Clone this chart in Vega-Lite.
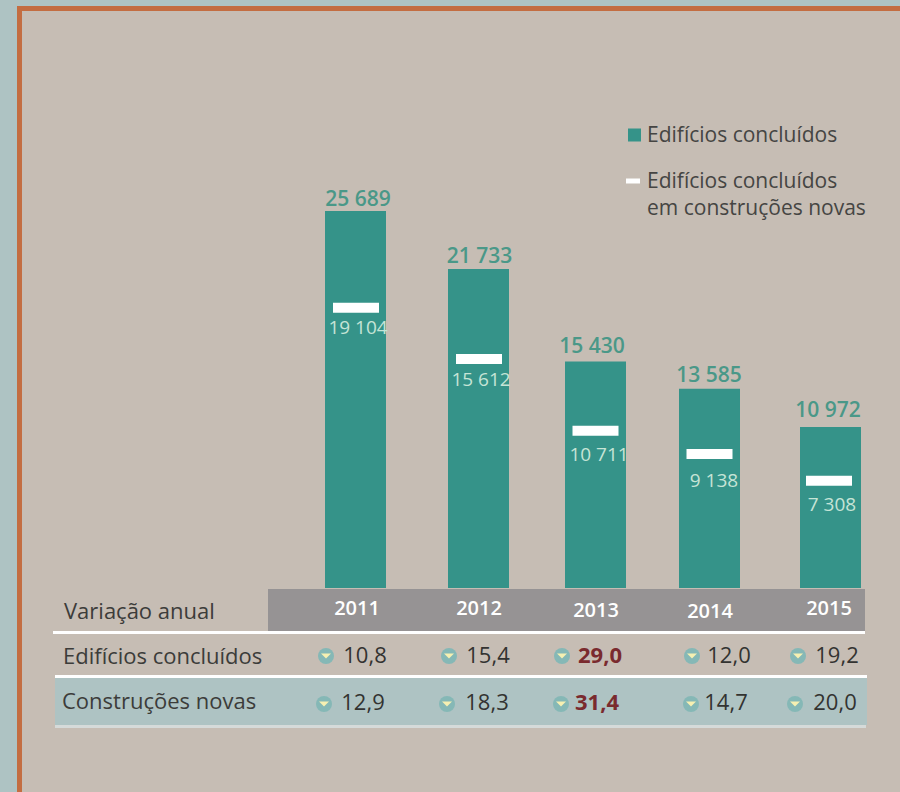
{"$schema":"https://vega.github.io/schema/vega-lite/v6.json","width":900,"height":792,"padding":0,"autosize":{"type":"fit","contains":"padding"},"background":"#aec3c3","view":{"stroke":null},
"config":{"text":{"font":"Open Sans"},"axis":{"title":null}},
"datasets":{
"anos":[{"ano":2011,"concluidos":25689,"novas":19104,"total_txt":"25 689","novas_txt":"19 104"},{"ano":2012,"concluidos":21733,"novas":15612,"total_txt":"21 733","novas_txt":"15 612"},{"ano":2013,"concluidos":15430,"novas":10711,"total_txt":"15 430","novas_txt":"10 711"},{"ano":2014,"concluidos":13585,"novas":9138,"total_txt":"13 585","novas_txt":"9 138"},{"ano":2015,"concluidos":10972,"novas":7308,"total_txt":"10 972","novas_txt":"7 308"}],
"variacao":[{"ano":2011,"indicador":"Edifícios concluídos","valor":"10,8"},{"ano":2012,"indicador":"Edifícios concluídos","valor":"15,4"},{"ano":2013,"indicador":"Edifícios concluídos","valor":"29,0"},{"ano":2014,"indicador":"Edifícios concluídos","valor":"12,0"},{"ano":2015,"indicador":"Edifícios concluídos","valor":"19,2"},{"ano":2011,"indicador":"Construções novas","valor":"12,9"},{"ano":2012,"indicador":"Construções novas","valor":"18,3"},{"ano":2013,"indicador":"Construções novas","valor":"31,4"},{"ano":2014,"indicador":"Construções novas","valor":"14,7"},{"ano":2015,"indicador":"Construções novas","valor":"20,0"}],
"linhas":[{"linha":"Variação anual"},{"linha":"Edifícios concluídos"},{"linha":"Construções novas"}],
"legenda":[{"txt":"Edifícios concluídos"},{"txt":"Edifícios concluídos|em construções novas"}],
"um":[{"k":1}]
},
"data":{"name":"anos"},
"layer":[
{"data":{"name":"um"},"mark":{"type":"rect","color":"#c36d41"},"encoding":{"x":{"value":17},"x2":{"value":900},"y":{"value":6},"y2":{"value":792}}},
{"data":{"name":"um"},"mark":{"type":"rect","color":"#c6bdb4"},"encoding":{"x":{"value":22},"x2":{"value":900},"y":{"value":11},"y2":{"value":792}}},
{"data":{"name":"um"},"mark":{"type":"rect","color":"#969394"},"encoding":{"x":{"value":268},"x2":{"value":865},"y":{"value":589},"y2":{"value":631}}},
{"data":{"name":"um"},"mark":{"type":"rect","color":"#aec3c3"},"encoding":{"x":{"value":55},"x2":{"value":867},"y":{"value":677},"y2":{"value":725}}},
{"data":{"name":"um"},"mark":{"type":"rect","color":"#ffffff"},"encoding":{"x":{"value":53},"x2":{"value":865},"y":{"value":631},"y2":{"value":634}}},
{"data":{"name":"um"},"mark":{"type":"rect","color":"#ffffff"},"encoding":{"x":{"value":55},"x2":{"value":867},"y":{"value":675},"y2":{"value":678}}},
{"data":{"name":"um"},"mark":{"type":"rect","color":"#d5dad9"},"encoding":{"x":{"value":55},"x2":{"value":866},"y":{"value":725},"y2":{"value":728}}},
{"mark":{"type":"bar","orient":"vertical","width":61,"color":"#359389"},"encoding":{"x":{"field":"ano","type":"quantitative","axis":null,"scale":{"domain":[2011,2012,2013,2014,2015],"range":[355.5,478.5,595.5,709.5,830.5],"nice":false,"zero":false,"padding":0}},"y":{"field":"concluidos","type":"quantitative","axis":null,"stack":null,"scale":{"domain":[0,25689],"range":[588,211],"nice":false}}}},
{"mark":{"type":"tick","orient":"horizontal","size":46,"thickness":10,"color":"#ffffff","opacity":1},"encoding":{"x":{"field":"ano","type":"quantitative","axis":null,"scale":{"domain":[2011,2012,2013,2014,2015],"range":[356,479,595.5,709.5,829],"nice":false,"zero":false}},"y":{"field":"novas","type":"quantitative","axis":null,"scale":{"domain":[0,25689],"range":[588,211],"nice":false}}}},
{"mark":{"type":"text","fontSize":21,"fontWeight":600,"color":"#4a9888","baseline":"middle"},"encoding":{"text":{"field":"total_txt"},"x":{"field":"ano","type":"quantitative","axis":null,"scale":{"domain":[2011,2012,2013,2014,2015],"range":[358,479.5,592,709,828],"nice":false,"zero":false}},"y":{"field":"concluidos","type":"quantitative","axis":null,"scale":{"domain":[10972,13585,15430,21733,25689],"range":[411,376,347,257,200],"nice":false,"zero":false}}}},
{"mark":{"type":"text","fontSize":19,"color":"#c6e4d6","baseline":"middle"},"encoding":{"text":{"field":"novas_txt"},"x":{"field":"ano","type":"quantitative","axis":null,"scale":{"domain":[2011,2012,2013,2014,2015],"range":[358,481,599,714,832],"nice":false,"zero":false}},"y":{"field":"novas","type":"quantitative","axis":null,"scale":{"domain":[7308,9138,10711,15612,19104],"range":[505,481,455,380,328],"nice":false,"zero":false}}}},
{"mark":{"type":"text","fontSize":20,"fontWeight":600,"color":"#ffffff","baseline":"middle"},"encoding":{"text":{"field":"ano","type":"nominal"},"x":{"field":"ano","type":"quantitative","axis":null,"scale":{"domain":[2011,2012,2013,2014,2015],"range":[357,479,596,710,829],"nice":false,"zero":false}},"y":{"field":"ano","type":"quantitative","axis":null,"scale":{"domain":[2011,2012,2013,2014,2015],"range":[609,609,611,612,609],"nice":false,"zero":false}}}},
{"data":{"name":"linhas"},"mark":{"type":"text","fontSize":22,"color":"#3c3c3a","align":"left","baseline":"middle"},"encoding":{"text":{"field":"linha"},"x":{"field":"linha","type":"nominal","axis":null,"scale":{"type":"point","domain":["Construções novas","Edifícios concluídos","Variação anual"],"range":[62,64],"padding":0}},"y":{"field":"linha","type":"nominal","axis":null,"scale":{"type":"point","domain":["Variação anual","Edifícios concluídos","Construções novas"],"range":[612,702],"padding":0}}}},
{"data":{"name":"variacao"},"transform":[{"filter":"datum.indicador === 'Edifícios concluídos'"}],"mark":{"type":"point","filled":true,"shape":"circle","size":256,"color":"#85b8b6","opacity":1},"encoding":{"x":{"field":"ano","type":"quantitative","axis":null,"scale":{"domain":[2011,2012,2013,2014,2015],"range":[326,449,562,692,798],"nice":false,"zero":false}},"y":{"field":"indicador","type":"nominal","axis":null,"scale":{"type":"point","domain":["Edifícios concluídos","Construções novas"],"range":[656,704],"padding":0}}}},
{"data":{"name":"variacao"},"transform":[{"filter":"datum.indicador === 'Edifícios concluídos'"}],"mark":{"type":"point","filled":true,"shape":"M-1,-0.5L1,-0.5L0,0.5Z","size":100,"color":"#f6f0b2","opacity":1},"encoding":{"x":{"field":"ano","type":"quantitative","axis":null,"scale":{"domain":[2011,2012,2013,2014,2015],"range":[326,449,562,692,798],"nice":false,"zero":false}},"y":{"field":"indicador","type":"nominal","axis":null,"scale":{"type":"point","domain":["Edifícios concluídos","Construções novas"],"range":[656,704],"padding":0}}}},
{"data":{"name":"variacao"},"transform":[{"filter":"datum.indicador === 'Construções novas'"}],"mark":{"type":"point","filled":true,"shape":"circle","size":256,"color":"#85b8b6","opacity":1},"encoding":{"x":{"field":"ano","type":"quantitative","axis":null,"scale":{"domain":[2011,2012,2013,2014,2015],"range":[324,447,561,691,795],"nice":false,"zero":false}},"y":{"field":"indicador","type":"nominal","axis":null,"scale":{"type":"point","domain":["Edifícios concluídos","Construções novas"],"range":[656,704],"padding":0}}}},
{"data":{"name":"variacao"},"transform":[{"filter":"datum.indicador === 'Construções novas'"}],"mark":{"type":"point","filled":true,"shape":"M-1,-0.5L1,-0.5L0,0.5Z","size":100,"color":"#f6f0b2","opacity":1},"encoding":{"x":{"field":"ano","type":"quantitative","axis":null,"scale":{"domain":[2011,2012,2013,2014,2015],"range":[324,447,561,691,795],"nice":false,"zero":false}},"y":{"field":"indicador","type":"nominal","axis":null,"scale":{"type":"point","domain":["Edifícios concluídos","Construções novas"],"range":[656,704],"padding":0}}}},
{"data":{"name":"variacao"},"transform":[{"filter":"datum.indicador === 'Edifícios concluídos' && datum.ano !== 2013"}],"mark":{"type":"text","fontSize":22,"color":"#333331","baseline":"middle"},"encoding":{"text":{"field":"valor"},"x":{"field":"ano","type":"quantitative","axis":null,"scale":{"domain":[2011,2012,2013,2014,2015],"range":[365,488,600,729,837],"nice":false,"zero":false}},"y":{"field":"indicador","type":"nominal","axis":null,"scale":{"type":"point","domain":["Edifícios concluídos","Construções novas"],"range":[656,703],"padding":0}}}},
{"data":{"name":"variacao"},"transform":[{"filter":"datum.indicador === 'Construções novas' && datum.ano !== 2013"}],"mark":{"type":"text","fontSize":22,"color":"#333331","baseline":"middle"},"encoding":{"text":{"field":"valor"},"x":{"field":"ano","type":"quantitative","axis":null,"scale":{"domain":[2011,2012,2013,2014,2015],"range":[363,487,597,726,835],"nice":false,"zero":false}},"y":{"field":"indicador","type":"nominal","axis":null,"scale":{"type":"point","domain":["Edifícios concluídos","Construções novas"],"range":[656,703],"padding":0}}}},
{"data":{"name":"variacao"},"transform":[{"filter":"datum.ano === 2013"}],"mark":{"type":"text","fontSize":22,"fontWeight":700,"color":"#7a2a2e","baseline":"middle"},"encoding":{"text":{"field":"valor"},"x":{"field":"indicador","type":"nominal","axis":null,"scale":{"type":"point","domain":["Construções novas","Edifícios concluídos"],"range":[597,600],"padding":0}},"y":{"field":"indicador","type":"nominal","axis":null,"scale":{"type":"point","domain":["Edifícios concluídos","Construções novas"],"range":[656,703],"padding":0}}}},
{"data":{"name":"legenda"},"mark":{"type":"text","fontSize":21,"color":"#454543","align":"left","baseline":"middle","lineBreak":"|","lineHeight":27},"encoding":{"text":{"field":"txt"},"x":{"field":"txt","type":"nominal","axis":null,"scale":{"type":"point","domain":["Edifícios concluídos","Edifícios concluídos|em construções novas"],"range":[647,647],"padding":0}},"y":{"field":"txt","type":"nominal","axis":null,"scale":{"type":"point","domain":["Edifícios concluídos","Edifícios concluídos|em construções novas"],"range":[136,182],"padding":0}}}},
{"data":{"name":"legenda"},"transform":[{"filter":"datum.txt === 'Edifícios concluídos'"}],"mark":{"type":"point","filled":true,"shape":"square","size":169,"color":"#359389","opacity":1},"encoding":{"x":{"field":"txt","type":"nominal","axis":null,"scale":{"type":"point","domain":["Edifícios concluídos"],"range":[634.5,634.5],"padding":0}},"y":{"field":"txt","type":"nominal","axis":null,"scale":{"type":"point","domain":["Edifícios concluídos"],"range":[135,135],"padding":0}}}},
{"data":{"name":"legenda"},"transform":[{"filter":"datum.txt !== 'Edifícios concluídos'"}],"mark":{"type":"tick","orient":"horizontal","size":14,"thickness":5,"color":"#ffffff","opacity":1},"encoding":{"x":{"field":"txt","type":"nominal","axis":null,"scale":{"type":"point","domain":["Edifícios concluídos|em construções novas"],"range":[633,633],"padding":0}},"y":{"field":"txt","type":"nominal","axis":null,"scale":{"type":"point","domain":["Edifícios concluídos|em construções novas"],"range":[181,181],"padding":0}}}}
],
"resolve":{"scale":{"x":"independent","y":"independent"}}
}
